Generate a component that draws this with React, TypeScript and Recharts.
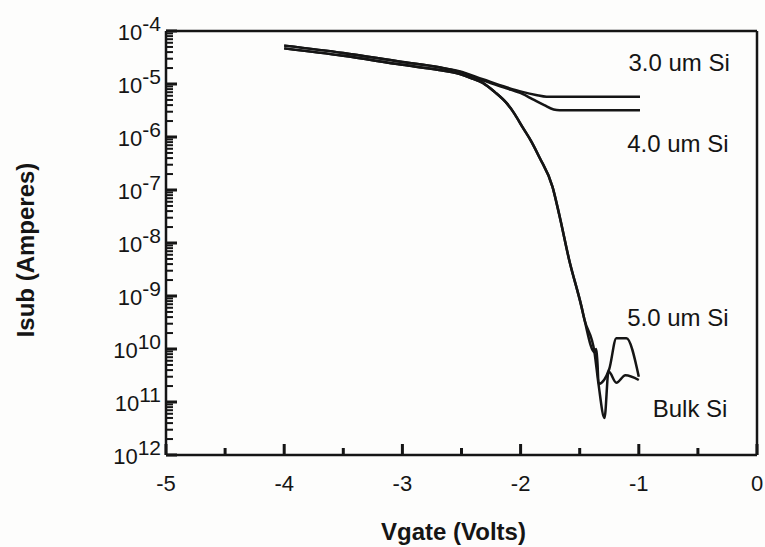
import React from "react";
import { LineChart, Line, XAxis, YAxis, ReferenceLine, ReferenceDot } from "recharts";

// Isub vs Vgate for different Si thicknesses
const v3um = [-4.0, -3.5, -3.0, -2.69, -2.52, -2.32, -2.12, -1.985, -1.87, -1.78, -0.99];
const i3um = [5.3e-5, 3.85e-5, 2.6e-5, 2.07e-5, 1.74e-5, 1.23e-5, 8.7e-6, 7.1e-6, 6.2e-6, 5.75e-6, 5.75e-6];

const v4um = [-4.0, -3.5, -3.0, -2.69, -2.52, -2.32, -2.12, -1.985, -1.9, -1.8, -1.72, -1.67, -0.99];
const i4um = [5.3e-5, 3.85e-5, 2.6e-5, 2.07e-5, 1.7e-5, 1.17e-5, 8.3e-6, 6.5e-6, 5.2e-6, 4.0e-6, 3.3e-6, 3.2e-6, 3.2e-6];

const v5um = [-4.0, -3.5, -3.0, -2.69, -2.52, -2.42, -2.32, -2.22, -2.12, -2.05, -1.985, -1.91, -1.84, -1.73, -1.67, -1.59, -1.485, -1.46, -1.375, -1.36, -1.35, -1.34, -1.25, -1.19, -1.105, -1.0];
const i5um = [4.7e-5, 3.4e-5, 2.3e-5, 1.84e-5, 1.55e-5, 1.3e-5, 1.05e-5, 7.1e-6, 4.4e-6, 2.7e-6, 1.55e-6, 8.3e-7, 4.1e-7, 1.15e-7, 3.2e-8, 4.9e-9, 6.3e-10, 3.6e-10, 8.7e-11, 1.0e-10, 5.6e-11, 2.2e-11, 4.2e-11, 1.6e-10, 1.6e-10, 3.0e-11];

const vBulk = [-4.0, -3.5, -3.0, -2.69, -2.52, -2.42, -2.32, -2.22, -2.12, -2.05, -1.985, -1.91, -1.84, -1.73, -1.67, -1.59, -1.485, -1.46, -1.375, -1.34, -1.29, -1.256, -1.19, -1.113, -1.0];
const iBulk = [4.7e-5, 3.4e-5, 2.3e-5, 1.84e-5, 1.55e-5, 1.3e-5, 1.05e-5, 7.1e-6, 4.4e-6, 2.7e-6, 1.55e-6, 8.3e-7, 4.1e-7, 1.15e-7, 3.2e-8, 4.9e-9, 6.3e-10, 3.6e-10, 8.7e-11, 2.1e-11, 5.0e-12, 3.8e-11, 2.3e-11, 3.2e-11, 2.6e-11];

const xTicks = [-5, -4.5, -4, -3.5, -3, -2.5, -2, -1.5, -1, -0.5, 0];
const xTickLabels: Record<string, string> = { "-5": "-5", "-4": "-4", "-3": "-3", "-2": "-2", "-1": "-1", "0": "0" };

const yExponents = [-4, -5, -6, -7, -8, -9, -10, -11, -12];
// superscripts as printed (the scan lost the minus on the last three)
const ySupLabels = ["-4", "-5", "-6", "-7", "-8", "-9", "10", "11", "12"];
const yMinorSteps = [2, 3, 4, 5, 6, 7, 8, 9];

const labelTexts = ["3.0 um Si", "4.0 um Si", "5.0 um Si", "Bulk Si"];
const labelV = [-0.23, -0.24, -0.24, -0.25];
const labelI = [2.5e-5, 7.7e-7, 4.0e-10, 7.4e-12];

const toPoints = (vs: number[], is: number[]) => vs.map((v, k) => ({ v, i: is[k] }));

const yMajor: number[] = yExponents.map((e) => Math.pow(10, e));
const yMinor: number[] = [];
yExponents.slice(1).forEach((e) => {
  yMinorSteps.forEach((m) => yMinor.push(m * Math.pow(10, e)));
});

// plot box is 591 px for 5 V and 424 px for 8 decades; used for inward tick lengths
const PX_PER_V = 591 / 5;
const PX_PER_DEC = 424 / 8;
const X_MIN = -5;
const Y_MIN = 1e-12;

const INK = "#151515";
const FONT = "'Liberation Sans', Arial, Helvetica, sans-serif";

function YTick(props: any) {
  const { x, y, payload } = props;
  const e = Math.round(Math.log10(payload.value));
  const sup = ySupLabels[yExponents.indexOf(e)];
  return (
    <text x={x - 5} y={y + 9} textAnchor="end" fontSize={22} fill={INK} fontFamily={FONT}>
      <tspan>10</tspan>
      <tspan dy={-9} fontSize={21}>{sup}</tspan>
    </text>
  );
}

function XTick(props: any) {
  const { x, y, payload } = props;
  const v = payload.value;
  if (!Number.isInteger(v)) return <g />;
  return (
    <text x={x} y={y + 36} textAnchor="middle" fontSize={22} fill={INK} fontFamily={FONT}>
      {xTickLabels[String(v)]}
    </text>
  );
}

export default function App() {
  const series = [
    toPoints(v3um, i3um),
    toPoints(v4um, i4um),
    toPoints(v5um, i5um),
    toPoints(vBulk, iBulk),
  ];
  const yMarks = [
    ...yMajor.map((t) => ({ t, len: 11, w: 3 })),
    ...yMinor.map((t) => ({ t, len: 7, w: 2 })),
  ];
  const xMarks = xTicks.map((t) => ({ t, len: Number.isInteger(t) ? 11 : 7 }));
  return (
    <div style={{ position: "absolute", left: 0, top: 0, width: 765, height: 547, background: "#fdfdfc", fontFamily: FONT }}>
      <LineChart width={765} height={547} margin={{ top: 31, right: 8, left: 0, bottom: 0 }}>
        <XAxis
          dataKey="v"
          type="number"
          domain={[-5, 0]}
          ticks={xTicks}
          interval={0}
          allowDataOverflow
          tickSize={0}
          tickMargin={0}
          tickLine={false}
          height={92}
          axisLine={{ stroke: INK, strokeWidth: 2.5 }}
          tick={<XTick />}
          label={{
            content: (p: any) => (
              <text
                x={p.viewBox.x + p.viewBox.width / 2 - 8}
                y={p.viewBox.y + 85}
                textAnchor="middle"
                fontSize={24}
                fontWeight="bold"
                fill={INK}
                fontFamily={FONT}
              >
                Vgate (Volts)
              </text>
            ),
          }}
        />
        <YAxis
          dataKey="i"
          type="number"
          scale="log"
          domain={[1e-12, 1e-4]}
          ticks={yMajor}
          interval={0}
          allowDataOverflow
          tickSize={0}
          tickMargin={0}
          tickLine={false}
          width={166}
          axisLine={{ stroke: INK, strokeWidth: 2.5 }}
          tick={<YTick />}
          label={{
            content: (p: any) => {
              const cx = 25;
              const cy = p.viewBox.y + p.viewBox.height / 2 + 7;
              return (
                <text
                  x={cx}
                  y={cy}
                  transform={`rotate(-90 ${cx} ${cy})`}
                  textAnchor="middle"
                  dominantBaseline="central"
                  fontSize={24}
                  fontWeight="bold"
                  fill={INK}
                  fontFamily={FONT}
                >
                  Isub (Amperes)
                </text>
              );
            },
          }}
        />
        <ReferenceLine y={1e-4} stroke={INK} strokeWidth={2.5} ifOverflow="visible" />
        <ReferenceLine x={0} stroke={INK} strokeWidth={2.5} ifOverflow="visible" />
        {yMarks.map((m, k) => (
          <ReferenceLine
            key={"ym" + k}
            segment={[
              { x: X_MIN, y: m.t },
              { x: X_MIN + m.len / PX_PER_V, y: m.t },
            ]}
            stroke={INK}
            strokeWidth={m.w}
            ifOverflow="visible"
          />
        ))}
        {xMarks.map((m, k) => (
          <ReferenceLine
            key={"xm" + k}
            segment={[
              { x: m.t, y: Y_MIN },
              { x: m.t, y: Y_MIN * Math.pow(10, m.len / PX_PER_DEC) },
            ]}
            stroke={INK}
            strokeWidth={3}
            ifOverflow="visible"
          />
        ))}
        {series.map((pts, k) => (
          <Line
            key={k}
            data={pts}
            dataKey="i"
            type="monotone"
            stroke={INK}
            strokeWidth={2.5}
            strokeLinejoin="round"
            dot={false}
            isAnimationActive={false}
          />
        ))}
        {labelTexts.map((t, k) => (
          <ReferenceDot
            key={t}
            x={labelV[k]}
            y={labelI[k]}
            r={0}
            stroke="none"
            fill="none"
            label={{ value: t, position: "left", offset: 0, fontSize: 24, fill: INK, fontFamily: FONT }}
          />
        ))}
      </LineChart>
    </div>
  );
}
